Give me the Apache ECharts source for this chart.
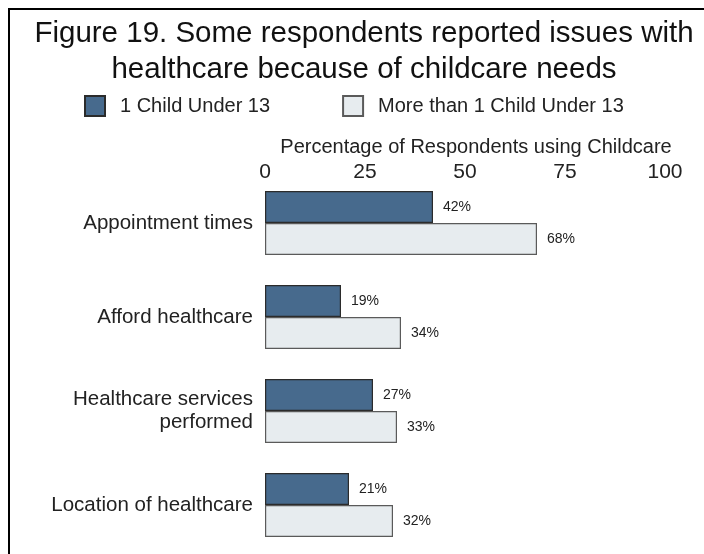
<!DOCTYPE html>
<html>
<head>
<meta charset="utf-8">
<script src="https://cdn.jsdelivr.net/npm/echarts@6/dist/echarts.min.js"></script>
<style>
  html, body { margin: 0; padding: 0; background: #fff; }
  #chart { width: 704px; height: 554px; }
</style>
</head>
<body>
<div id="chart"></div>
<script>
// Issues with healthcare, by number of children under 13 in childcare
const categories = [
  'Appointment times',
  'Afford healthcare',
  'Healthcare services\nperformed',
  'Location of healthcare'
];
const oneChild = [42, 19, 27, 21];
const moreThanOne = [68, 34, 33, 32];
const seriesNames = ['1 Child Under 13', 'More than 1 Child Under 13'];
const xTicks = [0, 25, 50, 75, 100];

const FONT = '"Liberation Sans", Arial, Helvetica, sans-serif';
const chart = echarts.init(document.getElementById('chart'), null, { renderer: 'canvas' });

const valueLabel = {
  show: true,
  position: 'right',
  distance: 10,
  formatter: '{c}%',
  fontFamily: FONT,
  fontSize: 14,
  color: '#222'
};

chart.setOption({
  backgroundColor: '#fff',
  animation: false,
  title: {
    text: 'Figure 19. Some respondents reported issues with\nhealthcare because of childcare needs',
    left: 359,
    textAlign: 'center',
    top: 11,
    textStyle: {
      fontFamily: FONT,
      fontSize: 29.5,
      fontWeight: 'normal',
      color: '#111',
      lineHeight: 36
    }
  },
  legend: {
    data: seriesNames,
    left: 84,
    top: 95,
    padding: 0,
    itemWidth: 20,
    itemHeight: 20,
    itemGap: 72,
    icon: 'rect',
    textStyle: { fontFamily: FONT, fontSize: 20, color: '#222', padding: [0, 0, 0, 10] }
  },
  grid: { left: 265, right: 39, top: 176, bottom: 2, containLabel: false },
  xAxis: {
    type: 'value',
    position: 'top',
    min: xTicks[0],
    max: xTicks[xTicks.length - 1],
    interval: 25,
    name: 'Percentage of Respondents using Childcare',
    nameLocation: 'middle',
    nameGap: 11,
    nameTextStyle: { fontFamily: FONT, fontSize: 20, color: '#222', padding: [0, 0, 0, 22] },
    axisLine: { show: false },
    axisTick: { show: false },
    splitLine: { show: false },
    axisLabel: { fontFamily: FONT, fontSize: 21, color: '#222', margin: -7 }
  },
  yAxis: {
    type: 'category',
    data: categories,
    inverse: true,
    axisLine: { show: false },
    axisTick: { show: false },
    axisLabel: {
      fontFamily: FONT,
      fontSize: 20.5,
      color: '#222',
      margin: 12,
      lineHeight: 23,
      align: 'right'
    }
  },
  series: [
    {
      name: seriesNames[0],
      type: 'bar',
      data: oneChild,
      barGap: '0%',
      barCategoryGap: '32%',
      itemStyle: { color: '#476a8d', borderColor: '#2b2b2b', borderWidth: 1.2 },
      label: valueLabel
    },
    {
      name: seriesNames[1],
      type: 'bar',
      data: moreThanOne,
      itemStyle: { color: '#e7ecef', borderColor: '#5a5a5a', borderWidth: 1.2 },
      label: valueLabel
    }
  ],
  graphic: [
    {
      type: 'polyline',
      shape: { points: [[9, 554], [9, 9], [704, 9]] },
      style: { stroke: '#000', lineWidth: 2, fill: null },
      silent: true
    }
  ]
});
</script>
</body>
</html>
